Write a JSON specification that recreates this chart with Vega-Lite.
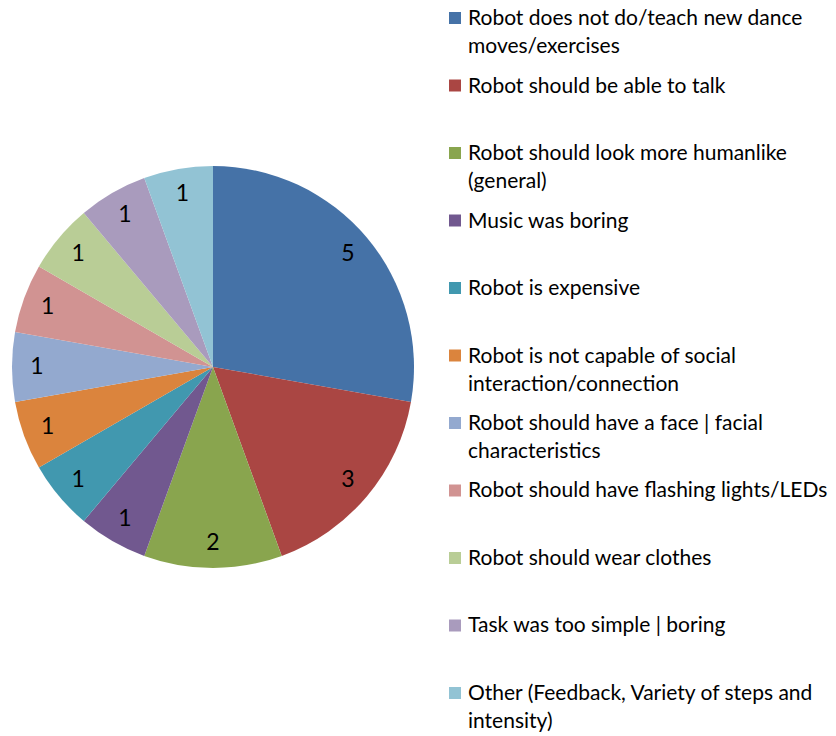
{
  "$schema": "https://vega.github.io/schema/vega-lite/v6.json",
  "config": {"view": {"stroke": null}, "font": "Lato"},
  "data": {"values": [
    {"k": 1, "category": "Robot does not do/teach new dance moves/exercises", "label": "Robot does not do/teach new dance\nmoves/exercises", "count": 5},
    {"k": 2, "category": "Robot should be able to talk", "label": "Robot should be able to talk", "count": 3},
    {"k": 3, "category": "Robot should look more humanlike (general)", "label": "Robot should look more humanlike\n(general)", "count": 2},
    {"k": 4, "category": "Music was boring", "label": "Music was boring", "count": 1},
    {"k": 5, "category": "Robot is expensive", "label": "Robot is expensive", "count": 1},
    {"k": 6, "category": "Robot is not capable of social interaction/connection", "label": "Robot is not capable of social\ninteraction/connection", "count": 1},
    {"k": 7, "category": "Robot should have a face | facial characteristics", "label": "Robot should have a face | facial\ncharacteristics", "count": 1},
    {"k": 8, "category": "Robot should have flashing lights/LEDs", "label": "Robot should have flashing lights/LEDs", "count": 1},
    {"k": 9, "category": "Robot should wear clothes", "label": "Robot should wear clothes", "count": 1},
    {"k": 10, "category": "Task was too simple | boring", "label": "Task was too simple | boring", "count": 1},
    {"k": 11, "category": "Other (Feedback, Variety of steps and intensity)", "label": "Other (Feedback, Variety of steps and\nintensity)", "count": 1}
  ]},
  "spacing": 20,
  "hconcat": [
    {
      "width": 416,
      "height": 724,
      "encoding": {
        "theta": {"field": "count", "type": "quantitative", "stack": true},
        "order": {"field": "k", "type": "quantitative"}
      },
      "layer": [
        {
          "mark": {"type": "arc", "outerRadius": 201},
          "encoding": {
            "color": {
              "field": "category", "type": "nominal", "legend": null,
              "sort": {"field": "k"},
              "scale": {"range": ["#4572A7", "#AA4643", "#89A54E", "#71588F", "#4198AF", "#DB843D", "#93A9CF", "#D19392", "#B9CD96", "#A99BBD", "#92C3D4"]}
            }
          }
        },
        {
          "mark": {"type": "text", "radius": 176, "fontSize": 23, "font": "Lato", "color": "#000000"},
          "encoding": {"text": {"field": "count", "type": "quantitative"}}
        }
      ]
    },
    {
      "width": 28,
      "height": 701,
      "encoding": {
        "y": {"field": "category", "type": "nominal", "sort": {"field": "k"}, "scale": {"type": "point", "padding": 0.1926}, "axis": null}
      },
      "layer": [
        {
          "mark": {"type": "square", "size": 144, "opacity": 1, "filled": true},
          "encoding": {
            "color": {
              "field": "category", "type": "nominal", "legend": null,
              "sort": {"field": "k"},
              "scale": {"range": ["#4572A7", "#AA4643", "#89A54E", "#71588F", "#4198AF", "#DB843D", "#93A9CF", "#D19392", "#B9CD96", "#A99BBD", "#92C3D4"]}
            }
          }
        },
        {
          "mark": {"type": "text", "align": "left", "baseline": "alphabetic", "dx": 13, "dy": 7, "fontSize": 21, "font": "Lato", "lineBreak": "\n", "lineHeight": 28, "color": "#000000"},
          "encoding": {"text": {"field": "label", "type": "nominal"}}
        }
      ]
    }
  ]
}
